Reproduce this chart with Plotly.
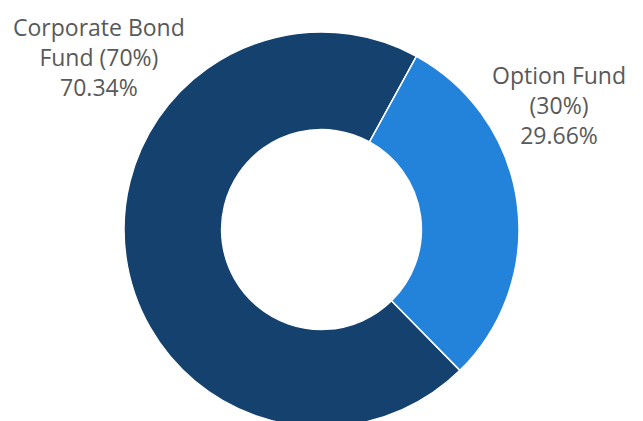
import plotly.graph_objects as go

labels = ["Corporate Bond Fund (70%)", "Option Fund (30%)"]
values = [70.34, 29.66]
label_lines = [["Corporate Bond", "Fund (70%)", "70.34%"], ["Option Fund", "(30%)", "29.66%"]]
colors = ["#14416D", "#2382DA"]

W, H = 643, 427
cx, cy, r = 321.5, 229.5, 197.5

fig = go.Figure(go.Pie(
    labels=labels, values=values, hole=0.506, sort=False,
    direction="clockwise", rotation=135.5,
    marker=dict(colors=colors, line=dict(color="white", width=1.5)),
    textinfo="none", hoverinfo="label+value", showlegend=False,
    domain=dict(x=[(cx - r) / W, (cx + r) / W], y=[0, (2 * r) / H]),
))

pos = [(99, 57), (559, 105)]
for lines, (px, py) in zip(label_lines, pos):
    fig.add_annotation(
        text="<br>".join(lines), x=px / W, y=1 - py / H, xref="paper", yref="paper",
        xanchor="center", yanchor="middle", align="center", showarrow=False,
        font=dict(family="Open Sans", size=23, color="#595959"),
    )

fig.update_layout(width=W, height=H, margin=dict(l=0, r=0, t=0, b=0),
                  paper_bgcolor="white", plot_bgcolor="white")

fig.write_html("out.html", post_script="document.documentElement.style.overflow='hidden';document.body.style.overflow='hidden';document.body.style.margin='0';")
